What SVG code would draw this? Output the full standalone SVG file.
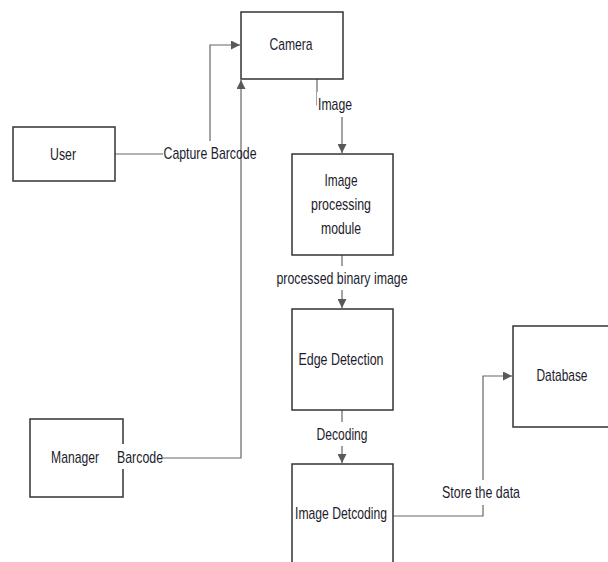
<svg xmlns="http://www.w3.org/2000/svg" width="608" height="562" viewBox="0 0 608 562">
<defs>
<marker id="arr" viewBox="0 0 10 10" refX="10" refY="5" markerWidth="9" markerHeight="9" markerUnits="userSpaceOnUse" orient="auto">
<path d="M0,0 L10,5 L0,10 Z" fill="#595959"/>
</marker>
<style>
.box{fill:#fff;stroke:#333;stroke-width:1.5}
.t{font-family:"Liberation Sans",Arial,sans-serif;font-size:17px;fill:#1c1c2c;text-anchor:middle;dominant-baseline:central}
.ln{fill:none;stroke:#666;stroke-width:1.2}
.lb{fill:#fff}
</style>
</defs>
<rect width="608" height="562" fill="#fff"/>
<g id="connectors">
<path class="ln" d="M115,154 H210 V45 H240" marker-end="url(#arr)"/>
<path class="ln" d="M317,79 V105 H342 V153" marker-end="url(#arr)"/>
<path class="ln" d="M342,255 V308" marker-end="url(#arr)"/>
<path class="ln" d="M342,410 V463" marker-end="url(#arr)"/>
<path class="ln" d="M393,516 H483 V376 H512" marker-end="url(#arr)"/>
<rect class="lb" x="163" y="141" width="94" height="26"/>
<rect class="lb" x="317" y="92" width="36" height="25"/>
<rect class="lb" x="274" y="266" width="135" height="24"/>
<rect class="lb" x="315" y="422" width="53" height="24"/>
<rect class="lb" x="440" y="480" width="82" height="25"/>
<path class="ln" d="M123,458 H241 V80" marker-end="url(#arr)"/>
<text class="t" x="210" y="153" textLength="93" lengthAdjust="spacingAndGlyphs">Capture Barcode</text>
<text class="t" x="335" y="104" textLength="34" lengthAdjust="spacingAndGlyphs">Image</text>
<text class="t" x="342" y="278" textLength="131" lengthAdjust="spacingAndGlyphs">processed binary image</text>
<text class="t" x="342" y="434" textLength="51" lengthAdjust="spacingAndGlyphs">Decoding</text>
<text class="t" x="481" y="492" textLength="78" lengthAdjust="spacingAndGlyphs">Store the data</text>
</g>
<g id="camera">
<rect class="box" x="241" y="12" width="102" height="67"/>
<text class="t" x="291" y="44" textLength="43" lengthAdjust="spacingAndGlyphs">Camera</text>
</g>
<g id="user">
<rect class="box" x="13" y="127" width="102" height="54"/>
<text class="t" x="63" y="154" textLength="26" lengthAdjust="spacingAndGlyphs">User</text>
</g>
<g id="image-processing">
<rect class="box" x="292" y="154" width="101" height="101"/>
<text class="t" x="341" y="180" textLength="33" lengthAdjust="spacingAndGlyphs">Image</text>
<text class="t" x="341" y="204" textLength="60" lengthAdjust="spacingAndGlyphs">processing</text>
<text class="t" x="341" y="228" textLength="40" lengthAdjust="spacingAndGlyphs">module</text>
</g>
<g id="edge-detection">
<rect class="box" x="292" y="309" width="101" height="101"/>
<text class="t" x="341" y="359" textLength="85" lengthAdjust="spacingAndGlyphs">Edge Detection</text>
</g>
<g id="image-detcoding">
<rect class="box" x="292" y="464" width="101" height="110"/>
<text class="t" x="341" y="513" textLength="92" lengthAdjust="spacingAndGlyphs">Image Detcoding</text>
</g>
<g id="database">
<rect class="box" x="513" y="326" width="110" height="101"/>
<text class="t" x="562" y="375" textLength="51" lengthAdjust="spacingAndGlyphs">Database</text>
</g>
<g id="manager">
<rect class="box" x="30" y="419" width="93" height="78"/>
<rect class="lb" x="116" y="444" width="47" height="25"/>
<text class="t" x="75" y="457" textLength="48" lengthAdjust="spacingAndGlyphs">Manager</text>
<text class="t" x="140" y="457" textLength="46" lengthAdjust="spacingAndGlyphs">Barcode</text>
</g>
</svg>
